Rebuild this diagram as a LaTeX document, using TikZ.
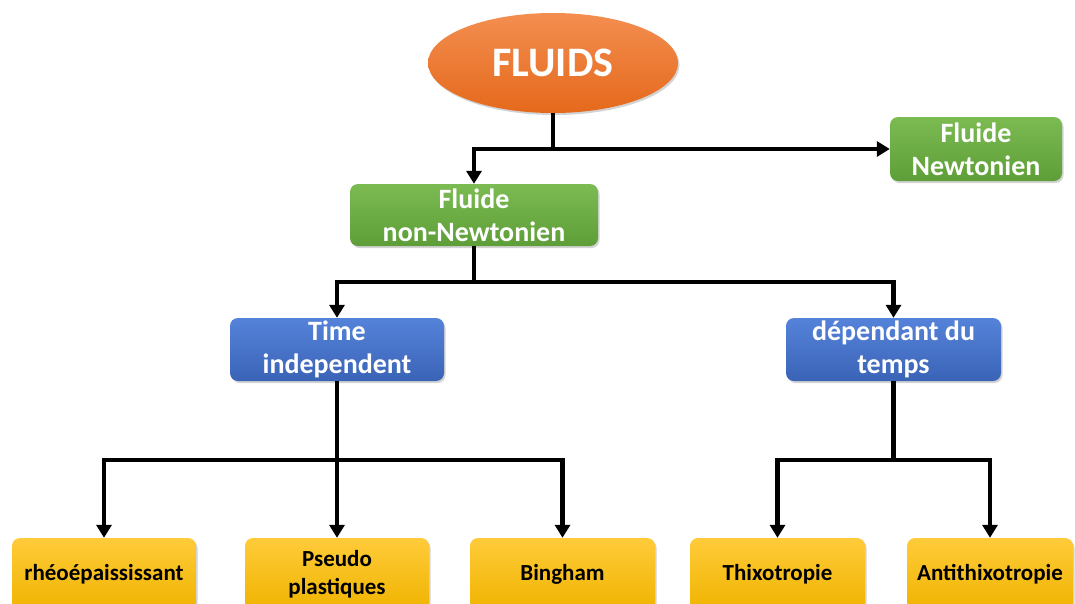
\documentclass[tikz,border=0pt]{standalone}
\usepackage{fontspec}
\setmainfont{Carlito}
\usetikzlibrary{shapes.geometric,arrows.meta,shadows}
\definecolor{orT}{HTML}{F38E50}
\definecolor{orB}{HTML}{E5691B}
\definecolor{grT}{HTML}{7CBB52}
\definecolor{grB}{HTML}{5E9E38}
\definecolor{blT}{HTML}{5583DA}
\definecolor{blB}{HTML}{3A63B6}
\definecolor{yeT}{HTML}{FFCB3A}
\definecolor{yeB}{HTML}{F0B400}
\tikzset{
  shd/.style={drop shadow={opacity=0.35,shadow xshift=1.5pt,shadow yshift=-2pt}},
  boxbase/.style={rectangle,rounded corners=8pt,inner sep=0pt,align=center,shd,font=\bfseries},
  greenbox/.style={boxbase,top color=grT,bottom color=grB,text=white,font=\fontsize{28}{33}\selectfont\bfseries},
  bluebox/.style={boxbase,top color=blT,bottom color=blB,text=white,font=\fontsize{28}{33}\selectfont\bfseries},
  yellowbox/.style={boxbase,top color=yeT,bottom color=yeB,text=black,font=\fontsize{23}{28}\selectfont\bfseries},
  arr/.style={line width=4.2pt,line join=miter,-{Triangle[length=13pt,width=15pt]}}
}
\begin{document}
\begin{tikzpicture}[x=1pt,y=-1pt]
\useasboundingbox (0,0) rectangle (1075,603);
\node[ellipse,minimum width=250pt,minimum height=100pt,top color=orT,bottom color=orB,shd,
      text=white,font=\fontsize{42}{46}\selectfont\bfseries] (fl) at (553,63) {FLUIDS};
\node[greenbox,minimum width=172pt,minimum height=64pt] (fn) at (976,149) {Fluide\\Newtonien};
\node[greenbox,minimum width=248pt,minimum height=62pt] (fnn) at (474,215) {Fluide\\non-Newtonien};
\node[bluebox,minimum width=214pt,minimum height=63pt] (ti) at (337,349.5) {Time\\independent};
\node[bluebox,minimum width=215pt,minimum height=63pt] (dt) at (893.5,349.5) {dépendant du\\temps};
\node[yellowbox,minimum width=184pt,minimum height=72pt] (rh) at (104,574) {rhéoépaississant};
\node[yellowbox,minimum width=184pt,minimum height=72pt] (ps) at (337,574) {Pseudo\\plastiques};
\node[yellowbox,minimum width=185pt,minimum height=72pt] (bi) at (562.5,574) {Bingham};
\node[yellowbox,minimum width=175pt,minimum height=72pt] (th) at (777.5,574) {Thixotropie};
\node[yellowbox,minimum width=166pt,minimum height=72pt] (an) at (990,574) {Antithixotropie};

\draw[arr] (fl.south) |- (fn.west);
\draw[arr] (fl.south) -- ++(0,36) -| (fnn.north);
\draw[arr] (fnn.south) -- ++(0,36) -| (ti.north);
\draw[arr] (fnn.south) -- ++(0,36) -| (dt.north);
\draw[arr] (ti.south) -- ++(0,79) -| (rh.north);
\draw[arr] (ti.south) -- (ps.north);
\draw[arr] (ti.south) -- ++(0,79) -| (bi.north);
\draw[arr] (dt.south) -- ++(0,79) -| (th.north);
\draw[arr] (dt.south) -- ++(0,79) -| (an.north);
\end{tikzpicture}
\end{document}
